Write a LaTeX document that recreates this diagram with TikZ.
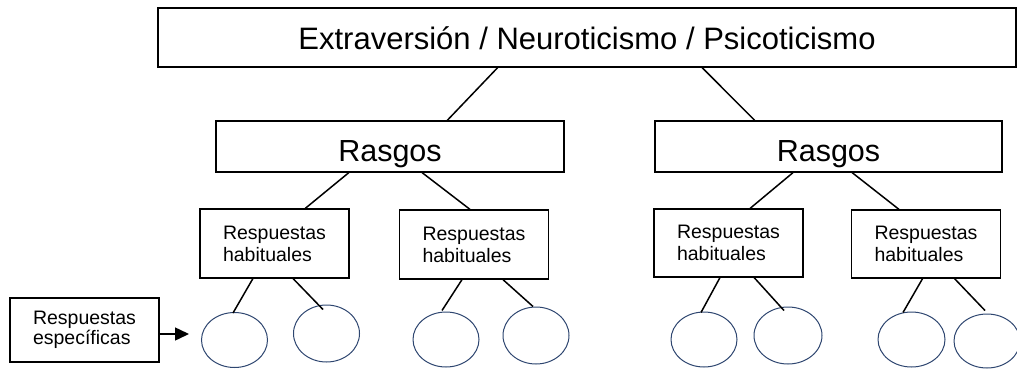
\documentclass[tikz,border=0pt]{standalone}
\usepackage{fontspec}
\setmainfont{Liberation Sans}
\usetikzlibrary{shapes.geometric, arrows.meta, calc}
\definecolor{azul}{HTML}{2E4670}
\tikzset{>={Triangle[length=14pt,width=13pt]}}
\tikzset{
caja/.style={draw, line width=1.3pt, inner sep=0pt},
grande/.style={caja, font=\fontsize{31}{36}\selectfont, text height=25pt, text depth=0pt},
rasgo/.style={caja, minimum width=348pt, minimum height=51pt, font=\fontsize{30.5}{36}\selectfont, text height=30.4pt, text depth=0pt},
habito/.style={caja, minimum width=149pt, minimum height=69pt, align=left, font=\fontsize{19.5}{22}\selectfont},
resp/.style={draw=azul, line width=1pt, ellipse, inner sep=0pt, minimum width=66pt, minimum height=55pt},
rama/.style={line width=1.5pt}
}

\begin{document}
\begin{tikzpicture}[x=1pt, y=-1pt]
\useasboundingbox (0,0) rectangle (1017,369);
\node[grande, minimum width=858pt, minimum height=59pt] (ext) at (587,37.5) {Extraversión / Neuroticismo / Psicoticismo};
\node[rasgo] (rasA) at (390,146.5) {Rasgos};
\node[rasgo, minimum width=347pt] (rasB) at (828.5,146.5) {Rasgos};
\node[habito] (habA) at (274.5,243.5) {Respuestas\\habituales};
\node[habito] (habB) at (474,244.5) {Respuestas\\habituales};
\node[habito, minimum height=68pt] (habC) at (728.5,243) {Respuestas\\habituales};
\node[habito, minimum height=68pt] (habD) at (926,244) {Respuestas\\habituales};
\node[habito, minimum height=64pt, font=\fontsize{19.5}{20.5}\selectfont] (esp) at (84.5,330) {Respuestas\\específicas};
\node[resp] (e1) at (234.5,340) {};
\node[resp, minimum height=57pt] (e2) at (326.5,333.5) {};
\node[resp] (e3) at (446,339.5) {};
\node[resp, minimum height=57pt] (e4) at (536,335.5) {};
\node[resp] (e5) at (704,339.5) {};
\node[resp, minimum width=68pt, minimum height=57pt] (e6) at (788,335.5) {};
\node[resp, minimum width=67pt] (e7) at (911.5,339.5) {};
\node[resp, minimum height=54pt] (e8) at (987,341) {};
\coordinate (punta) at (189,334);
\draw[rama] ($(ext.south west)!0.396!(ext.south east)$) -- ($(rasA.north west)!0.664!(rasA.north east)$);
\draw[rama] ($(ext.south west)!0.634!(ext.south east)$) -- ($(rasB.north west)!0.288!(rasB.north east)$);
\draw[rama] ($(rasA.south west)!0.382!(rasA.south east)$) -- ($(habA.north west)!0.705!(habA.north east)$);
\draw[rama] ($(rasA.south west)!0.592!(rasA.south east)$) -- ($(habB.north west)!0.473!(habB.north east)$);
\draw[rama] ($(rasB.south west)!0.398!(rasB.south east)$) -- ($(habC.north west)!0.644!(habC.north east)$);
\draw[rama] ($(rasB.south west)!0.568!(rasB.south east)$) -- ($(habD.north west)!0.32!(habD.north east)$);
\draw[rama] ($(habA.south west)!0.356!(habA.south east)$) -- ($(e1.north)+(-1.5,1)$);
\draw[rama] ($(habA.south west)!0.624!(habA.south east)$) -- ($(e2.north)+(-3.5,5)$);
\draw[rama] ($(habB.south west)!0.42!(habB.south east)$) -- ($(e3.north)+(-4,-1)$);
\draw[rama] ($(habB.south west)!0.693!(habB.south east)$) -- ($(e4.north)+(-3,0)$);
\draw[rama] ($(habC.south west)!0.443!(habC.south east)$) -- ($(e5.north)+(-3,1)$);
\draw[rama] ($(habC.south west)!0.671!(habC.south east)$) -- ($(e6.north)+(-4,4)$);
\draw[rama] ($(habD.south west)!0.477!(habD.south east)$) -- ($(e7.north)+(-8.5,1)$);
\draw[rama] ($(habD.south west)!0.69!(habD.south east)$) -- ($(e8.north)+(-2,-3)$);
\draw[->, rama] ([yshift=-4pt]esp.east) -- (punta);
\end{tikzpicture}
\end{document}
